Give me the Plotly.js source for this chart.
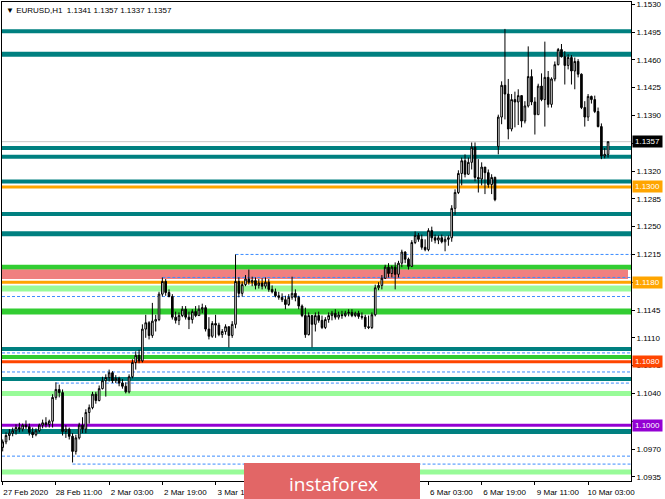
<!DOCTYPE html>
<html><head><meta charset="utf-8">
<script src="https://cdn.plot.ly/plotly-3.0.1.min.js"></script>
<style>html,body{margin:0;padding:0;background:#fff;}#chart{width:665px;height:499px;}</style>
</head><body><div id="chart"></div>
<script>
const symbol = 'EURUSD,H1';
const openP = [1.0972,1.0979,1.0987,1.0990,1.0993,1.0997,1.0995,1.1000,1.0998,1.0991,1.0988,1.0993,1.1000,1.1003,1.1001,1.1005,1.1035,1.1045,1.1041,1.0992,1.0995,1.0986,1.0967,1.0984,1.1000,1.0995,1.1016,1.1022,1.1039,1.1031,1.1046,1.1056,1.1060,1.1066,1.1056,1.1059,1.1053,1.1049,1.1042,1.1061,1.1079,1.1088,1.1081,1.1121,1.1129,1.1113,1.1131,1.1133,1.1165,1.1181,1.1167,1.1162,1.1136,1.1132,1.1138,1.1146,1.1136,1.1133,1.1143,1.1138,1.1146,1.1148,1.1121,1.1112,1.1128,1.1126,1.1114,1.1118,1.1124,1.1113,1.1127,1.1181,1.1166,1.1177,1.1184,1.1180,1.1182,1.1176,1.1179,1.1175,1.1180,1.1171,1.1168,1.1163,1.1161,1.1158,1.1152,1.1161,1.1166,1.1161,1.1150,1.1138,1.1114,1.1138,1.1127,1.1138,1.1132,1.1123,1.1133,1.1138,1.1141,1.1136,1.1139,1.1138,1.1141,1.1142,1.1138,1.1141,1.1137,1.1136,1.1124,1.1123,1.1139,1.1173,1.1176,1.1185,1.1199,1.1191,1.1199,1.1190,1.1204,1.1218,1.1209,1.1200,1.1230,1.1239,1.1234,1.1224,1.1221,1.1245,1.1236,1.1233,1.1236,1.1231,1.1234,1.1236,1.1273,1.1293,1.1317,1.1333,1.1316,1.1331,1.1350,1.1312,1.1310,1.1325,1.1318,1.1303,1.1312,1.1351,1.1388,1.1428,1.1417,1.1373,1.1410,1.1407,1.1415,1.1383,1.1402,1.1439,1.1407,1.1391,1.1427,1.1410,1.1438,1.1404,1.1436,1.1454,1.1473,1.1464,1.1453,1.1463,1.1446,1.1458,1.1442,1.1400,1.1388,1.1414,1.1410,1.1395,1.1376,1.1339,1.1341];
const highP = [1.0982,1.0991,1.0995,1.0997,1.1001,1.1003,1.1002,1.1006,1.1002,1.0997,1.0996,1.1002,1.1007,1.1010,1.1007,1.1039,1.1054,1.1051,1.1045,1.1000,1.0997,1.0990,1.0988,1.1003,1.1010,1.1020,1.1026,1.1042,1.1042,1.1050,1.1061,1.1064,1.1070,1.1068,1.1063,1.1061,1.1058,1.1054,1.1064,1.1083,1.1093,1.1095,1.1127,1.1139,1.1131,1.1154,1.1139,1.1168,1.1186,1.1184,1.1171,1.1165,1.1143,1.1142,1.1150,1.1150,1.1143,1.1146,1.1150,1.1151,1.1153,1.1151,1.1136,1.1131,1.1139,1.1129,1.1121,1.1127,1.1124,1.1131,1.1215,1.1186,1.1181,1.1189,1.1196,1.1187,1.1186,1.1184,1.1185,1.1186,1.1184,1.1176,1.1172,1.1168,1.1166,1.1163,1.1165,1.1187,1.1171,1.1163,1.1152,1.1148,1.1142,1.1138,1.1142,1.1143,1.1138,1.1136,1.1142,1.1144,1.1146,1.1143,1.1144,1.1144,1.1146,1.1146,1.1143,1.1144,1.1142,1.1139,1.1138,1.1142,1.1177,1.1180,1.1189,1.1202,1.1204,1.1201,1.1205,1.1207,1.1221,1.1219,1.1211,1.1233,1.1244,1.1242,1.1240,1.1234,1.1248,1.1250,1.1240,1.1239,1.1240,1.1238,1.1239,1.1277,1.1297,1.1321,1.1337,1.1341,1.1337,1.1356,1.1356,1.1335,1.1331,1.1325,1.1322,1.1316,1.1313,1.1391,1.1433,1.1499,1.1436,1.1417,1.1420,1.1423,1.1415,1.1408,1.1477,1.1448,1.1413,1.1430,1.1443,1.1483,1.1446,1.1438,1.1458,1.1475,1.1480,1.1471,1.1467,1.1466,1.1463,1.1461,1.1443,1.1408,1.1417,1.1415,1.1415,1.1400,1.1380,1.1349,1.1357];
const lowP = [1.0967,1.0976,1.0981,1.0986,1.0988,1.0991,1.0992,1.0995,1.0987,1.0984,1.0986,1.0991,1.0996,1.0997,1.0997,1.0997,1.1032,1.1035,1.0987,1.0984,1.0982,1.0953,1.0963,1.0982,1.0990,1.0990,1.1002,1.1020,1.1027,1.1030,1.1045,1.1036,1.1055,1.1053,1.1053,1.1049,1.1046,1.1040,1.1040,1.1059,1.1070,1.1078,1.1079,1.1110,1.1108,1.1110,1.1118,1.1131,1.1162,1.1163,1.1161,1.1133,1.1128,1.1126,1.1136,1.1133,1.1121,1.1128,1.1136,1.1138,1.1141,1.1118,1.1108,1.1110,1.1110,1.1112,1.1110,1.1114,1.1098,1.1110,1.1122,1.1161,1.1162,1.1175,1.1177,1.1175,1.1171,1.1172,1.1171,1.1172,1.1168,1.1166,1.1161,1.1158,1.1155,1.1146,1.1150,1.1158,1.1156,1.1146,1.1136,1.1110,1.1113,1.1098,1.1118,1.1129,1.1121,1.1121,1.1129,1.1132,1.1133,1.1133,1.1134,1.1136,1.1137,1.1136,1.1136,1.1134,1.1133,1.1121,1.1121,1.1121,1.1137,1.1170,1.1171,1.1184,1.1186,1.1186,1.1171,1.1186,1.1199,1.1204,1.1196,1.1199,1.1228,1.1231,1.1221,1.1219,1.1219,1.1231,1.1229,1.1228,1.1229,1.1219,1.1226,1.1231,1.1265,1.1291,1.1302,1.1312,1.1315,1.1322,1.1307,1.1293,1.1302,1.1291,1.1299,1.1291,1.1282,1.1341,1.1379,1.1385,1.1360,1.1370,1.1375,1.1378,1.1375,1.1380,1.1400,1.1403,1.1366,1.1391,1.1408,1.1376,1.1400,1.1400,1.1433,1.1453,1.1463,1.1429,1.1448,1.1429,1.1423,1.1438,1.1398,1.1376,1.1383,1.1405,1.1393,1.1375,1.1335,1.1336,1.1337];
const closeP = [1.0979,1.0987,1.0990,1.0993,1.0997,1.0995,1.1000,1.0998,1.0991,1.0988,1.0993,1.1000,1.1003,1.1001,1.1005,1.1035,1.1045,1.1041,1.0992,1.0995,1.0986,1.0967,1.0984,1.1000,1.0995,1.1016,1.1022,1.1039,1.1031,1.1046,1.1056,1.1060,1.1066,1.1056,1.1059,1.1053,1.1049,1.1042,1.1061,1.1079,1.1088,1.1081,1.1121,1.1129,1.1113,1.1131,1.1133,1.1165,1.1181,1.1167,1.1162,1.1136,1.1132,1.1138,1.1146,1.1136,1.1133,1.1143,1.1138,1.1146,1.1148,1.1121,1.1112,1.1128,1.1126,1.1114,1.1118,1.1124,1.1113,1.1127,1.1181,1.1166,1.1177,1.1184,1.1180,1.1182,1.1176,1.1179,1.1175,1.1180,1.1171,1.1168,1.1163,1.1161,1.1158,1.1152,1.1161,1.1166,1.1161,1.1150,1.1138,1.1114,1.1138,1.1127,1.1138,1.1132,1.1123,1.1133,1.1138,1.1141,1.1136,1.1139,1.1138,1.1141,1.1142,1.1138,1.1141,1.1137,1.1136,1.1124,1.1123,1.1139,1.1173,1.1176,1.1185,1.1199,1.1191,1.1199,1.1190,1.1204,1.1218,1.1209,1.1200,1.1230,1.1239,1.1234,1.1224,1.1221,1.1245,1.1236,1.1233,1.1236,1.1231,1.1234,1.1236,1.1273,1.1293,1.1317,1.1333,1.1316,1.1331,1.1350,1.1312,1.1310,1.1325,1.1318,1.1303,1.1312,1.1284,1.1388,1.1428,1.1417,1.1373,1.1410,1.1407,1.1415,1.1383,1.1402,1.1439,1.1407,1.1391,1.1427,1.1410,1.1438,1.1404,1.1436,1.1454,1.1473,1.1464,1.1453,1.1463,1.1446,1.1458,1.1442,1.1400,1.1388,1.1414,1.1410,1.1395,1.1376,1.1339,1.1341,1.1357];

// time-axis labels (the ones hidden by the watermark in the reference are left blank)
const xTickBars = [0,16,32,48,64,80,96,112,128,144,160,176];
const xTickLabels = ['27 Feb 2020','28 Feb 11:00','2 Mar 03:00','2 Mar 19:00','3 Mar 11:00','','','','6 Mar 03:00','6 Mar 19:00','9 Mar 11:00','10 Mar 03:00'];
const yTickValues = [1.0935,1.0970,1.1005,1.1040,1.1075,1.1110,1.1145,1.1180,1.1215,1.1250,1.1285,1.1320,1.1355,1.1390,1.1425,1.1460,1.1495,1.1530];
const yTickLabels = ['1.0935','1.0970','','1.1040','1.1075','1.1110','1.1145','','1.1215','1.1250','1.1285','1.1320','','1.1390','1.1425','1.1460','1.1495','1.1530'];

const tealLevels = [1.1496,1.1467,1.1349,1.1338,1.1307,1.1266,1.1241,1.1096,1.1058,1.0992];
const tealWidths = [4,5,4,4,4,4,5,4,4,5];
const greenLevels = [1.1199,1.1143,1.1086];
const greenWidths = [5,6,4];
const paleGreenLevels = [1.1172,1.1040,1.0941];
const paleGreenWidths = [6,5,5];
const pinkZone = [1.1184,1.1196];
const pinkZoneEndBar = 188;
const markedLevels = [1.1300,1.1180,1.1080,1.1000];
const markedColors = ['#FFA500','#FFA500','#FF4500','#9400D3'];
const dottedLevels = [1.1215,1.1186,1.1162,1.1091,1.1067,1.1053,1.0961,1.0951];
const dottedStartBars = [70,48,null,null,null,16,null,21];
const bidPrice = 1.1357;

const bars = closeP.map((_, i) => i);
const xMin = -0.21, xMax = 188.9;

const shapes = [];
function hline(y, color, width, opts) {
  const s = Object.assign({type:'line', xref:'paper', x0:0, x1:1, yref:'y', y0:y, y1:y,
    line:{color:color, width:width}, layer:'below'}, opts || {});
  shapes.push(s);
}
shapes.push({type:'rect', xref:'x', x0:xMin, x1:pinkZoneEndBar, yref:'y', y0:pinkZone[0], y1:pinkZone[1],
  fillcolor:'#F08080', line:{width:0}, layer:'below'});
tealLevels.forEach((v,i)=>hline(v,'#008080',tealWidths[i]));
greenLevels.forEach((v,i)=>hline(v,'#32CD32',greenWidths[i]));
paleGreenLevels.forEach((v,i)=>hline(v,'#98FB98',paleGreenWidths[i]));
hline(bidPrice,'#C8C8C8',1);
markedLevels.forEach((v,i)=>hline(v,markedColors[i],3));
dottedLevels.forEach((v,i)=>{
  const sb = dottedStartBars[i];
  if (sb === null) hline(v,'#3C8CFF',1,{line:{color:'#3C8CFF',width:1,dash:'3px,2px'}});
  else shapes.push({type:'line', xref:'x', x0:sb, x1:xMax, yref:'y', y0:v, y1:v,
    line:{color:'#3C8CFF',width:1,dash:'3px,2px'}, layer:'below'});
});
shapes.push({type:'rect', xref:'paper', yref:'paper', x0:(244-2)/629, x1:(420-2)/629, y0:-18/479, y1:(481-463)/479,
  fillcolor:'#E26666', line:{width:0}, layer:'above'});

const annotations = [];
const lastI = closeP.length - 1;
annotations.push({xref:'paper', yref:'paper', x:0, y:1, xanchor:'left', yanchor:'top', xshift:2, yshift:-2,
  text:'\u25BC ' + symbol + '  ' + [openP[lastI],highP[lastI],lowP[lastI],closeP[lastI]].map(v=>v.toFixed(4)).join(' '),
  showarrow:false, font:{family:'Liberation Sans, Arial, sans-serif', size:8, color:'#000'}});
function priceBox(v, bg) {
  annotations.push({xref:'paper', yref:'y', x:1, y:v, xanchor:'left', yanchor:'middle', xshift:1,
    text:v.toFixed(4), showarrow:false, bgcolor:bg, borderpad:1, width:27, align:'center',
    font:{family:'Liberation Sans, Arial, sans-serif', size:8, color:'#fff'}});
}
priceBox(bidPrice,'#000000');
markedLevels.forEach((v,i)=>priceBox(v, markedColors[i]));
annotations.push({xref:'paper', yref:'paper', x:(333-2)/629, y:(481-484)/479, xanchor:'center', yanchor:'middle',
  text:'instaforex', showarrow:false, font:{family:'Open Sans, Roboto, sans-serif', size:19, color:'#fff'}});

const trace = {
  type:'candlestick', x:bars, open:openP, high:highP, low:lowP, close:closeP,
  increasing:{line:{color:'#000',width:1}, fillcolor:'#ffffff'},
  decreasing:{line:{color:'#000',width:1}, fillcolor:'#000000'},
  whiskerwidth:0, hoverinfo:'skip', showlegend:false
};

const layout = {
  width:665, height:499, margin:{l:2, r:34, t:2, b:18},
  paper_bgcolor:'#fff', plot_bgcolor:'#fff', showlegend:false,
  xaxis:{range:[xMin,xMax], rangeslider:{visible:false}, showgrid:false, zeroline:false,
    tickmode:'array', tickvals:xTickBars, ticktext:xTickLabels, ticks:'outside', ticklen:3, tickcolor:'#000',
    ticklabelshift:23, tickfont:{family:'Liberation Sans, Arial, sans-serif', size:8, color:'#000'},
    showline:true, linecolor:'#000', linewidth:1, mirror:true, fixedrange:true},
  yaxis:{range:[1.09297,1.15329], side:'right', showgrid:false, zeroline:false,
    tickmode:'array', tickvals:yTickValues, ticktext:yTickLabels, ticks:'outside', ticklen:3, tickcolor:'#000',
    tickfont:{family:'Liberation Sans, Arial, sans-serif', size:8, color:'#000'},
    showline:true, linecolor:'#000', linewidth:1, mirror:true, fixedrange:true},
  shapes:shapes, annotations:annotations
};
Plotly.newPlot('chart',[trace],layout,{displayModeBar:false, staticPlot:true});
</script></body></html>
